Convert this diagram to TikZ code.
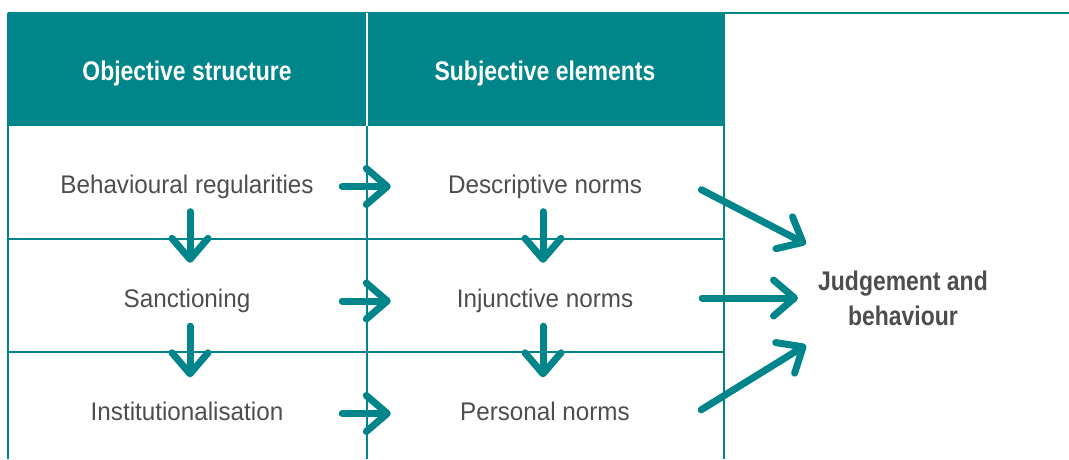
\documentclass[tikz,border=0pt]{standalone}
\usepackage{fontspec}
\setmainfont{Liberation Sans}[FakeStretch=0.95]
\newfontfamily\hdfont{Liberation Sans}[FakeStretch=0.85]
\usetikzlibrary{arrows.meta}
\definecolor{tealc}{RGB}{0,133,138}
\definecolor{txtgrey}{RGB}{77,77,79}
\begin{document}
\begin{tikzpicture}[x=1pt,y=-1pt,
  grid/.style={draw=tealc, line width=1.1pt},
  lbl/.style={font=\fontsize{25.5}{28}\selectfont, text=txtgrey, inner sep=0pt,
    minimum width=300pt, text height=17.5pt, text depth=4.5pt, anchor=base},
  hd/.style={font=\hdfont\bfseries\fontsize{27}{30}\selectfont, text=white, inner sep=0pt, anchor=base},
  jbs/.style={font=\hdfont\bfseries\fontsize{27}{35}\selectfont, text=txtgrey, inner sep=0pt, align=center},
  arr/.style={draw=tealc, line width=7pt, line cap=round, line join=round,
    -{Straight Barb[length=21pt,width=36pt,round]}}]
\useasboundingbox (0,0) rectangle (1069,459);
% table
\fill[tealc] (8,13) rectangle (724,126);
\draw[grid] (8,13) -- (1069,13);
\draw[grid] (8,13) -- (8,459);
\draw[grid] (367,126) -- (367,459);
\draw[grid] (724,13) -- (724,459);
\draw[grid] (8,239) -- (724,239);
\draw[grid] (8,352) -- (724,352);
\draw[white, line width=1.2pt] (367,13) -- (367,126);
% headers
\node[hd] (h1) at (187,80) {Objective structure};
\node[hd] (h2) at (545,80) {Subjective elements};
% labels
\node[lbl] (br) at (187,193) {Behavioural regularities};
\node[lbl] (sa) at (187,307.5) {Sanctioning};
\node[lbl] (it) at (187,420) {Institutionalisation};
\node[lbl] (dn) at (545,193) {Descriptive norms};
\node[lbl] (in) at (545,307.5) {Injunctive norms};
\node[lbl] (pn) at (545,420) {Personal norms};
\node[jbs] (jb) at (903,298) {Judgement and\\behaviour};
\coordinate (t1) at (806,244);
\coordinate (t2) at (798,298);
\coordinate (t3) at (806,345);
% horizontal arrows
\draw[arr, shorten <=5pt, shorten >=4pt] (br.east) -- (dn.west);
\draw[arr, shorten <=5pt, shorten >=4pt] (sa.east) -- (in.west);
\draw[arr, shorten <=5pt, shorten >=4pt] (it.east) -- (pn.west);
% vertical arrows
\draw[arr, shorten <=14pt, shorten >=27pt] ([xshift=3pt]br.south) -- ([xshift=3pt]sa.north);
\draw[arr, shorten <=14pt, shorten >=25pt] ([xshift=3pt]sa.south) -- ([xshift=3pt]it.north);
\draw[arr, shorten <=14pt, shorten >=27pt] ([xshift=-2pt]dn.south) -- ([xshift=-2pt]in.north);
\draw[arr, shorten <=14pt, shorten >=25pt] ([xshift=-2pt]in.south) -- ([xshift=-2pt]pn.north);
% to judgement
\draw[arr, shorten <=7pt] (dn.east) -- (t1);
\draw[arr, shorten <=7pt] (in.east |- t2) -- (t2);
\draw[arr, shorten <=7pt] (pn.east) -- (t3);
\end{tikzpicture}
\end{document}
